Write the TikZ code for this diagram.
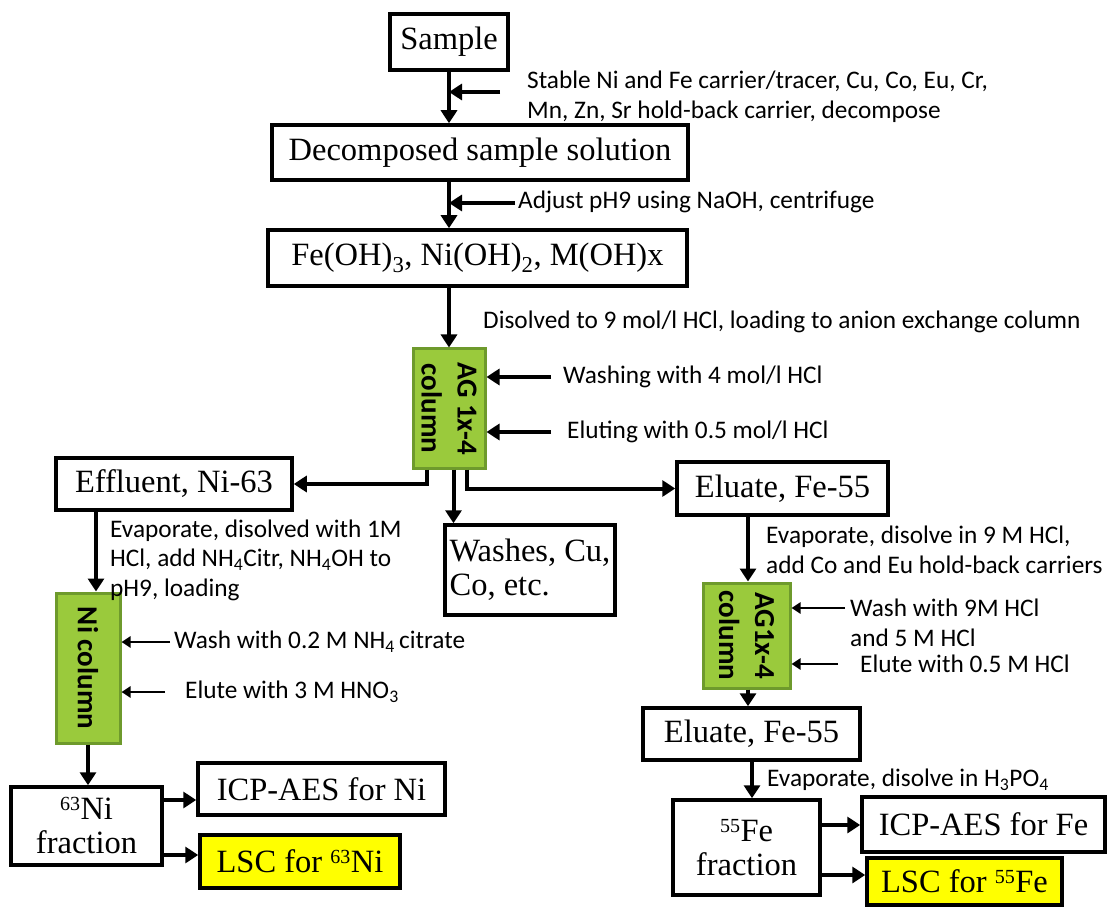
\documentclass[tikz,border=0pt]{standalone}
\usepackage{fontspec}
\setmainfont{Liberation Serif}
\newfontfamily\calib{Carlito}
\usetikzlibrary{arrows.meta}

\definecolor{colfill}{HTML}{9ACA3C}
\definecolor{colline}{HTML}{6E9A2C}
\definecolor{lscfill}{HTML}{FFFF00}

\tikzset{
  box/.style={draw=black, line width=3.5pt, fill=white, inner sep=0pt,
    font=\fontsize{32.5}{34}\selectfont},
  lscbox/.style={box, fill=lscfill},
  colbox/.style={draw=colline, line width=3pt, fill=colfill, inner sep=0pt},
  coltext/.style={rotate=-90, align=center, inner sep=0pt,
    font=\calib\bfseries\fontsize{29}{36}\selectfont},
  note/.style={anchor=west, inner sep=0pt, align=left,
    font=\calib\fontsize{25.3}{29.5}\selectfont},
  arr/.style={line width=4pt, -{Triangle[length=13pt, width=16pt]}},
  thin arr/.style={line width=2.6pt, -{Triangle[length=9pt, width=11pt]}},
}

\begin{document}
\begin{tikzpicture}[x=1pt, y=-1pt]
\useasboundingbox (0,0) rectangle (1109,909);

% ---------- main trunk ----------
\node[box, minimum width=118, minimum height=56] (sample) at (449,42) {Sample};
\node[box, minimum width=416, minimum height=55] (dec) at (480,152.5) {Decomposed sample solution};
\node[box, minimum width=419, minimum height=56] (feoh) at (477.5,258)
  {Fe(OH)\textsubscript{3}, Ni(OH)\textsubscript{2}, M(OH)x};

\node[colbox, minimum width=72, minimum height=119] (ag1) at (449,408.5) {};
\node[coltext] at (ag1.center) {AG 1x-4\\column};

\draw[arr] (sample.south) -- (sample.south |- dec.north);
\draw[arr] (sample.south |- dec.south) -- (sample.south |- feoh.north);
\draw[arr] (sample.south |- feoh.south) -- (sample.south |- ag1.north);

\coordinate (s1) at (500,92);
\coordinate (s2) at (515,203);
\draw[arr] (s1) -- (s1 -| sample.south);
\draw[arr] (s2) -- (s2 -| sample.south);

\node[note] (n1) at (527,97) {Stable Ni and Fe carrier/tracer, Cu, Co, Eu, Cr,\\Mn, Zn, Sr hold-back carrier, decompose};
\node[note] (n2) at (518,202) {Adjust pH9 using NaOH, centrifuge};
\node[note] (n3) at (483,322) {Disolved to 9 mol/l HCl, loading to anion exchange column};

% ---------- anion column inputs ----------
\coordinate (w1) at (551,377);
\coordinate (w2) at (551,432);
\draw[arr] (w1) -- (w1 -| ag1.east);
\draw[arr] (w2) -- (w2 -| ag1.east);
\node[note] (n4) at (563,377) {Washing with 4 mol/l HCl};
\node[note] (n5) at (567,432) {Eluting with 0.5 mol/l HCl};

% ---------- anion column outputs ----------
\node[box, minimum width=236, minimum height=52] (eff) at (174,484) {Effluent, Ni-63};
\node[box, minimum width=170, minimum height=90, align=left] (wash) at (530,570)
  {Washes, Cu,\\Co, etc.};
\node[box, minimum width=211, minimum height=53] (elu1) at (782.5,488.5) {Eluate, Fe-55};

\coordinate (agL) at ([xshift=15pt]ag1.south west);
\coordinate (agM) at ([xshift=42pt]ag1.south west);
\coordinate (agR) at ([xshift=55pt]ag1.south west);
\draw[arr] (agL) |- (eff.east);
\draw[arr] (agM) -- (agM |- wash.north);
\draw[arr] (agR) |- (elu1.west);

% ---------- nickel branch ----------
\node[colbox, minimum width=64, minimum height=150] (nicol) at (88,668) {};
\node[coltext] at (nicol.center) {Ni column};

\coordinate (effB) at (96,510);
\draw[arr] (effB) -- (effB |- nicol.north);
\node[note] (n6) at (110,560) {Evaporate, disolved with 1M\\HCl, add NH\textsubscript{4}Citr, NH\textsubscript{4}OH to\\pH9, loading};

\coordinate (w3) at (170,642);
\coordinate (w4) at (165,692);
\draw[thin arr] (w3) -- (w3 -| nicol.east);
\draw[thin arr] (w4) -- (w4 -| nicol.east);
\node[note] (n7) at (174,642) {Wash with 0.2 M NH\textsubscript{4}\,citrate};
\node[note] (n8) at (185,692) {Elute with 3 M HNO\textsubscript{3}};

\node[box, minimum width=151, minimum height=78, align=center] (nifrac) at (86.5,826)
  {\textsuperscript{\fontsize{20}{20}\selectfont 63}Ni\\fraction};
\node[box, minimum width=247, minimum height=52] (icpni) at (321.5,789) {ICP-AES for Ni};
\node[lscbox, minimum width=200, minimum height=53] (lscni) at (300,861.5)
  {LSC for \textsuperscript{\fontsize{20}{20}\selectfont 63}Ni};

\draw[arr] (nicol.south) -- (nicol.south |- nifrac.north);
\coordinate (nf1) at (nifrac.east |- 0,800);
\coordinate (nf2) at (nifrac.east |- 0,855);
\draw[arr] (nf1) -- (nf1 -| icpni.west);
\draw[arr] (nf2) -- (nf2 -| lscni.west);

% ---------- iron branch ----------
\node[colbox, minimum width=87, minimum height=105] (ag2) at (746.5,635.5) {};
\node[coltext] at (ag2.center) {AG1x-4\\column};

\coordinate (eluB) at (748,515);
\draw[arr] (eluB) -- (eluB |- ag2.north);
\node[note] (n9) at (766,550) {Evaporate, disolve in 9 M HCl,\\add Co and Eu hold-back carriers};

\coordinate (w5) at (845,608);
\coordinate (w6) at (838,664);
\draw[thin arr] (w5) -- (w5 -| ag2.east);
\draw[thin arr] (w6) -- (w6 -| ag2.east);
\node[note] (n10) at (850,623) {Wash with 9M HCl\\and 5 M HCl};
\node[note] (n11) at (860,664) {Elute with 0.5 M HCl};

\node[box, minimum width=217, minimum height=52] (elu2) at (751.5,734) {Eluate, Fe-55};
\draw[arr] (ag2.south -| eluB) -- (eluB |- elu2.north);

\node[box, minimum width=147, minimum height=95, align=center] (fefrac) at (746.5,847.5)
  {\textsuperscript{\fontsize{20}{20}\selectfont 55}Fe\\fraction};
\node[box, minimum width=243, minimum height=55] (icpfe) at (983.5,824.5) {ICP-AES for Fe};
\node[lscbox, minimum width=195, minimum height=47] (lscfe) at (964.5,881.5)
  {LSC for \textsuperscript{\fontsize{20}{20}\selectfont 55}Fe};

\coordinate (elB) at (752,760);
\draw[arr] (elB) -- (elB |- fefrac.north);
\node[note] (n12) at (767,780) {Evaporate, disolve in H\textsubscript{3}PO\textsubscript{4}};

\coordinate (ff1) at (fefrac.east |- 0,825);
\coordinate (ff2) at (fefrac.east |- 0,875);
\draw[arr] (ff1) -- (ff1 -| icpfe.west);
\draw[arr] (ff2) -- (ff2 -| lscfe.west);
\end{tikzpicture}
\end{document}
